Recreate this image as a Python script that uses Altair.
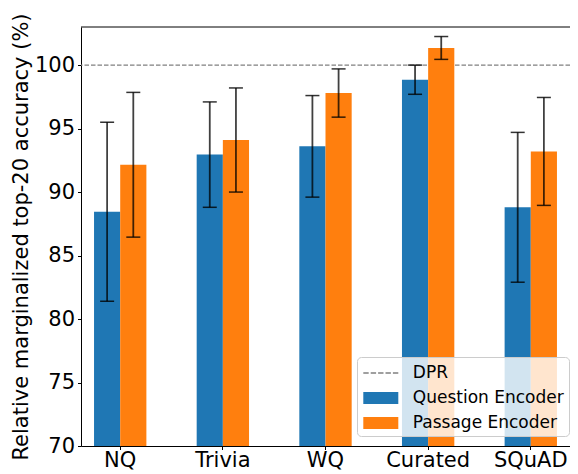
import altair as alt
import pandas as pd

categories = ["NQ", "Trivia", "WQ", "Curated", "SQuAD"]
series = ["Question Encoder", "Passage Encoder"]
question_mean = [88.45, 92.95, 93.6, 98.85, 88.8]
question_err = [7.05, 4.15, 4.0, 1.15, 5.9]
passage_mean = [92.15, 94.1, 97.8, 101.35, 93.2]
passage_err = [5.7, 4.1, 1.9, 0.9, 4.25]
dpr_value = 100
y_ticks = [70, 75, 80, 85, 90, 95, 100]
y_domain = [70, 103]
legend_entries = ["DPR", "Question Encoder", "Passage Encoder"]
legend_colors = ["#808080", "#1f77b4", "#ff7f0e"]
y_title = "Relative marginalized top-20 accuracy (%)"

FONT = "DejaVu Sans"

rows = []
for i, c in enumerate(categories):
    for s, m, e in ((series[0], question_mean[i], question_err[i]),
                    (series[1], passage_mean[i], passage_err[i])):
        rows.append({"category": c, "series": s, "mean": m, "lo": m - e, "hi": m + e})
df = pd.DataFrame(rows)

# legend symbol paths (unit = sqrt(size)/2 px)
unit = 11.0
hw, hh = 17.5 / unit, 6.0 / unit
rect_path = f"M{-hw:.3f},{-hh:.3f}H{hw:.3f}V{hh:.3f}H{-hw:.3f}Z"
dash_len, gap_len, dh = 5.4 / unit, 2.0 / unit, 0.7 / unit
parts = []
x0 = -hw
for k in range(5):
    x1 = x0 + dash_len
    parts.append(f"M{x0:.3f},{-dh:.3f}H{x1:.3f}V{dh:.3f}H{x0:.3f}Z")
    x0 = x1 + gap_len
dash_path = "".join(parts)
legend_shapes = [dash_path, rect_path, rect_path]

x_axis = alt.Axis(title=None, labelAngle=0, labelPadding=0)
y_axis = alt.Axis(values=y_ticks, title=y_title, labelPadding=3, titlePadding=3)
legend_spec = alt.Legend(
    title=None, orient="none", legendX=276, legendY=330,
    direction="vertical", labelAlign="left",
    symbolSize=484, symbolOffset=7.8, labelOffset=21, rowPadding=6.0,
    padding=5, symbolStrokeWidth=0, symbolOpacity=1,
    fillColor="rgba(255,255,255,0.8)", strokeColor="#cccccc", cornerRadius=4,
)

x_enc = alt.X("category:N", sort=categories,
              scale=alt.Scale(paddingInner=0.49, paddingOuter=0.127), axis=x_axis)
xoff_enc = alt.XOffset("series:N", sort=series,
                       scale=alt.Scale(domain=series, paddingInner=0, paddingOuter=0))
y_scale = alt.Scale(domain=y_domain, zero=False, nice=False)
color_scale = alt.Scale(domain=legend_entries, range=legend_colors)
shape_scale = alt.Scale(domain=legend_entries, range=legend_shapes)

base = alt.Chart(df)

dpr = alt.Chart(pd.DataFrame({"dpr": [dpr_value]})).mark_rule(
    color="#808080", strokeDash=[4.5, 2], strokeWidth=1.3
).encode(y=alt.Y("dpr:Q", scale=y_scale, axis=y_axis))

bars = base.mark_bar().encode(
    x=x_enc,
    xOffset=xoff_enc,
    y=alt.Y("mean:Q", scale=y_scale, axis=y_axis),
    y2=alt.datum(y_domain[0]),
    color=alt.Color("series:N", scale=color_scale, legend=legend_spec),
)

err = base.mark_rule(color="black", opacity=0.75, strokeWidth=1.8).encode(
    x=x_enc, xOffset=xoff_enc,
    y=alt.Y("lo:Q", scale=y_scale, axis=y_axis), y2="hi:Q",
)

caps = base.transform_fold(["lo", "hi"], as_=["end", "val"]).mark_tick(
    color="black", opacity=0.8, size=14, thickness=1.5
).encode(
    x=x_enc, xOffset=xoff_enc,
    y=alt.Y("val:Q", scale=y_scale, axis=y_axis),
)

top_spine = alt.Chart(pd.DataFrame({"t": [y_domain[1]]})).mark_rule(
    color="black", strokeWidth=1
).encode(y=alt.Y("t:Q", scale=y_scale, axis=y_axis))

legend_layer = alt.Chart(pd.DataFrame({"series": legend_entries})).transform_filter(
    "false"
).mark_point(filled=True, opacity=1).encode(
    color=alt.Color("series:N", scale=color_scale, legend=legend_spec),
    shape=alt.Shape("series:N", scale=shape_scale, legend=legend_spec),
)

chart = alt.layer(dpr, bars, err, caps, top_spine, legend_layer).properties(
    width=489, height=419,
    autosize=alt.AutoSizeParams(type="none"),
    padding={"left": 73, "top": 19, "right": 0, "bottom": 30},
).configure_view(stroke=None).configure_axis(
    labelFont=FONT, labelFontSize=21, labelColor="black",
    titleFont=FONT, titleFontSize=21, titleFontWeight="normal", titleColor="black",
    domainColor="black", domainWidth=1, tickColor="black", tickWidth=1, tickSize=3.5,
    grid=False,
).configure_legend(
    labelFont=FONT, labelFontSize=17, labelColor="black", labelLimit=300,
)

chart.save("out.html", embed_options={"renderer": "svg", "actions": False})
